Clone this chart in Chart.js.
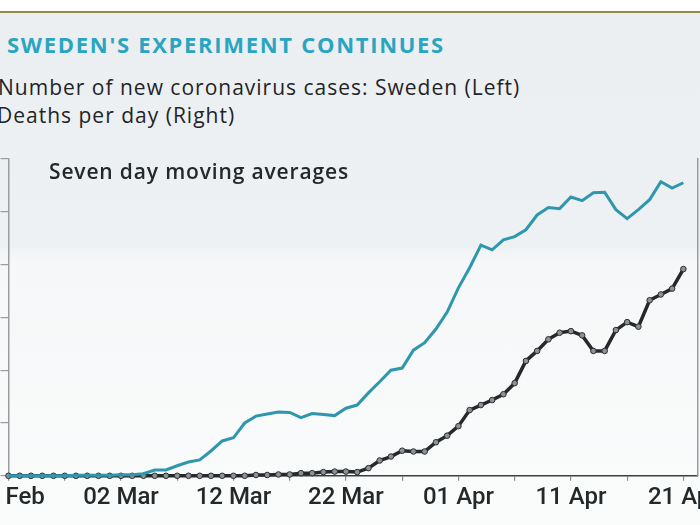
<!DOCTYPE html>
<html>
<head>
<meta charset="utf-8">
<script src="https://cdn.jsdelivr.net/npm/chart.js@4/dist/chart.umd.min.js"></script>
<style>
html,body{margin:0;padding:0;width:700px;height:525px;overflow:hidden;}
body{position:relative;font-family:"Open Sans",Roboto,sans-serif;
 background:linear-gradient(to bottom,#ffffff 0px,#ffffff 11px,#8e8d47 11px,#8e8d47 13px,#eceff2 13px,#eef1f3 246px,#f6f7f8 262px,#fafbfb 525px);}
.t{position:absolute;white-space:nowrap;line-height:1;}
#title{left:7px;top:33px;font-size:22px;font-weight:700;color:#2aa5c1;letter-spacing:1.7px;}
#sub1{left:-2px;top:77px;font-size:21px;font-weight:500;color:#1f2427;letter-spacing:1.0px;}
#sub2{left:-3px;top:105px;font-size:21px;font-weight:500;color:#1f2427;letter-spacing:1.0px;}
#note{left:49px;top:161px;font-size:21px;font-weight:600;color:#23282b;letter-spacing:0.85px;z-index:2;}
#wrap{position:absolute;left:-100px;top:0;width:900px;height:525px;}
</style>
</head>
<body>
<div class="t" id="title">SWEDEN'S EXPERIMENT CONTINUES</div>
<div class="t" id="sub1">Number of new coronavirus cases: Sweden (Left)</div>
<div class="t" id="sub2">Deaths per day (Right)</div>
<div class="t" id="note">Seven day moving averages</div>
<div id="wrap"><canvas id="c"></canvas></div>
<script>
// Day labels, 21 Feb 2020 .. 21 Apr 2020
const dates = [
 '21 Feb','22 Feb','23 Feb','24 Feb','25 Feb','26 Feb','27 Feb','28 Feb','29 Feb',
 '01 Mar','02 Mar','03 Mar','04 Mar','05 Mar','06 Mar','07 Mar','08 Mar','09 Mar','10 Mar',
 '11 Mar','12 Mar','13 Mar','14 Mar','15 Mar','16 Mar','17 Mar','18 Mar','19 Mar','20 Mar',
 '21 Mar','22 Mar','23 Mar','24 Mar','25 Mar','26 Mar','27 Mar','28 Mar','29 Mar','30 Mar','31 Mar',
 '01 Apr','02 Apr','03 Apr','04 Apr','05 Apr','06 Apr','07 Apr','08 Apr','09 Apr','10 Apr',
 '11 Apr','12 Apr','13 Apr','14 Apr','15 Apr','16 Apr','17 Apr','18 Apr','19 Apr','20 Apr','21 Apr'
];
// Tick positions (day index) and which ones carry a label
const tickDays = [0,5,10,15,20,25,30,35,40,45,50,55,60];
const labelDays = [0,10,20,30,40,50,60];

// New cases, 7-day moving average (left axis)
const cases = [
 0,0,0,0,0,0,1,1,1,1,
 2,2,4,11,11,19,26,30,47,66,
 72,100,113,117,121,120,110,118,116,114,
 128,134,157,178,200,204,238,252,278,310,
 356,394,437,428,447,453,466,494,508,506,
 528,521,536,537,504,487,504,523,557,545,
 555
];
// Deaths per day, 7-day moving average (right axis)
const deaths = [
 0,0,0,0,0,0,0,0,0,0,
 0,0,0,0,0,0,0,0,0,0,
 0,0,0.3,0.3,0.5,0.5,1,1,1.4,1.6,
 1.6,1.4,2.9,5.8,7.3,9.5,9.2,9.2,12.7,15.2,
 18.8,24.9,26.8,28.7,30.9,35.1,43.5,47.3,51.7,54.2,
 54.8,53.2,47.3,47.3,55.2,58.2,56.5,66.5,68.7,70.9,
 78.3
];

const toXY = arr => arr.map((v,i)=>({x:i,y:v}));

new Chart(document.getElementById('c'), {
  type: 'line',
  data: {
    datasets: [
      {
        label: 'New cases (Left)',
        data: toXY(cases),
        yAxisID: 'yL',
        borderColor: '#2f97ad',
        borderWidth: 3,
        pointRadius: 0,
        tension: 0,
        clip: false,
        order: 0
      },
      {
        label: 'Deaths per day (Right)',
        data: toXY(deaths),
        yAxisID: 'yR',
        borderColor: '#25292b',
        borderWidth: 3.5,
        pointRadius: 2.8,
        pointBackgroundColor: '#8e9294',
        pointBorderColor: '#2a2e30',
        pointBorderWidth: 1,
        tension: 0,
        clip: false,
        order: 1
      }
    ]
  },
  options: {
    responsive: true,
    maintainAspectRatio: false,
    animation: false,
    layout: { padding: { left: 100.5, right: 102, top: 159, bottom: 9.4 } },
    plugins: { legend: { display: false }, tooltip: { enabled: false } },
    scales: {
      x: {
        type: 'linear',
        min: 0,
        max: 61.3,
        afterBuildTicks: s => { s.ticks = tickDays.map(v => ({ value: v })); },
        ticks: {
          autoSkip: false,
          maxRotation: 0,
          padding: 3,
          color: '#23282b',
          font: { family: 'Roboto', size: 24, weight: '500' },
          callback: v => labelDays.includes(v) ? dates[v] : ''
        },
        grid: { drawOnChartArea: false, drawTicks: true, tickLength: 5, color: '#8a8d8f', lineWidth: 1.2 },
        border: { display: true, color: '#3a3e40', width: 1.5 }
      },
      yL: {
        position: 'left',
        min: 0,
        max: 600,
        afterBuildTicks: s => { s.ticks = [0,100,200,300,400,500,600].map(v => ({ value: v })); },
        ticks: { display: false },
        grid: { drawOnChartArea: false, drawTicks: true, tickLength: 8, color: '#9a9d9f', lineWidth: 1.2 },
        border: { display: true, color: '#9a9d9f', width: 1.5 }
      },
      yR: {
        position: 'right',
        min: 0,
        max: 120,
        ticks: { display: false },
        grid: { display: true, drawOnChartArea: false, drawTicks: false },
        border: { display: true, color: '#9a9d9f', width: 1.5 }
      }
    }
  }
});
</script>
</body>
</html>
